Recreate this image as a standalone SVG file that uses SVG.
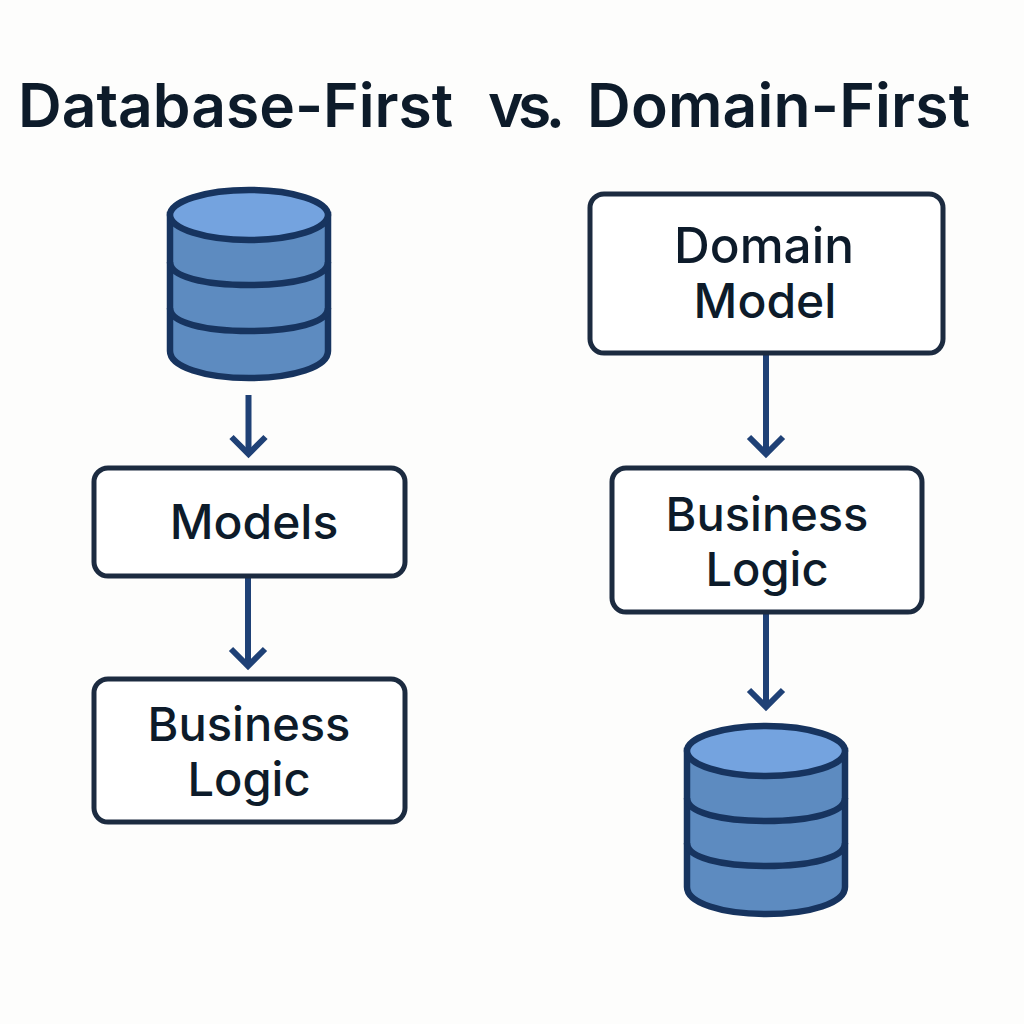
<svg xmlns="http://www.w3.org/2000/svg" width="1024" height="1024" viewBox="0 0 1024 1024">
<defs>
<style>
.t{font-family:Inter,"Liberation Sans",sans-serif;font-weight:500;fill:#0d1b2a;text-anchor:middle;font-size:47px}
.m{font-size:48px}
.d{font-size:49.500px}
.h{font-family:Inter,"Liberation Sans",sans-serif;font-weight:600;fill:#0d1b2a;font-size:60.500px}
.b{fill:#fff;stroke:#1c2b40;stroke-width:5}
.c{stroke:#1f4176;stroke-width:6;fill:none}
.db{fill:#5d8bc0;stroke:#17345f;stroke-width:6.500}
.top{fill:#74a3df;stroke:#17345f;stroke-width:6.500}
.l{fill:none;stroke:#17345f;stroke-width:6.500}
</style>
<marker id="a" markerUnits="userSpaceOnUse" markerWidth="44" markerHeight="44" refX="22" refY="22" orient="auto" overflow="visible"><path d="M5 5 L22 22 L5 39" fill="none" stroke="#1f4176" stroke-width="6"/></marker>
</defs>
<rect width="1024" height="1024" fill="#fdfdfc"/>
<text class="h" x="18" y="127">Database-First</text>
<text class="h" x="488" y="127" textLength="77">vs.</text>
<text class="h" x="587" y="127" textLength="383">Domain-First</text>
<g id="connectors">
<path class="c" d="M248.500 395V454" marker-end="url(#a)"/>
<path class="c" d="M248 578V666" marker-end="url(#a)"/>
<path class="c" d="M766 354V454" marker-end="url(#a)"/>
<path class="c" d="M766 613V707" marker-end="url(#a)"/>
</g>
<g id="db1">
<path class="db" d="M170 215V351C170 367 205 378 249 378S328 367 328 351V215Z"/>
<path class="l" d="M170 262C170 277 205 285 249 285S328 277 328 262M170 308C170 323 205 331 249 331S328 323 328 308"/>
<ellipse class="top" cx="249" cy="215" rx="79" ry="25"/>
</g>
<g id="models"><rect class="b" x="94" y="468" width="311" height="108" rx="14"/><text class="t m" x="254" y="539">Models</text></g>
<g id="bl1"><rect class="b" x="94" y="679" width="311" height="143" rx="14"/><text class="t" x="249" y="741">Business</text><text class="t" x="249" y="796">Logic</text></g>
<g id="domain"><rect class="b" x="590" y="194" width="353" height="159" rx="14"/><text class="t d" x="764" y="263">Domain</text><text class="t m" x="765" y="318">Model</text></g>
<g id="bl2"><rect class="b" x="612" y="468" width="310" height="144" rx="14"/><text class="t" x="767" y="531">Business</text><text class="t" x="767" y="586">Logic</text></g>
<g id="db2">
<path class="db" d="M687 751V887C687 903 722 914 766 914S845 903 845 887V751Z"/>
<path class="l" d="M687 798C687 813 722 821 766 821S845 813 845 798M687 843C687 858 722 866 766 866S845 858 845 843"/>
<ellipse class="top" cx="766" cy="751" rx="79" ry="25"/>
</g>
</svg>
